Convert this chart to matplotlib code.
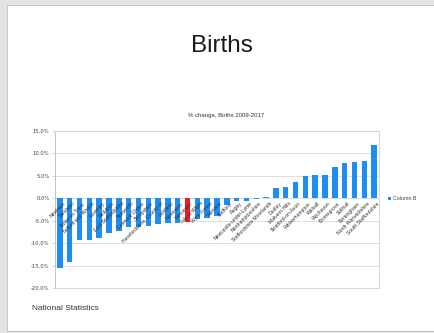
import matplotlib
matplotlib.use("Agg")
import matplotlib.pyplot as plt
from matplotlib.patches import Rectangle
from matplotlib.ticker import FuncFormatter, MultipleLocator

# Areas and their % change in births, 2009-2017
areas = [
    "Newham", "Sandwell", "Stoke-on-Trent", "Telford and Wrekin", "Coventry",
    "Redditch", "East Staffordshire", "Tamworth", "Cannock Chase", "Shropshire",
    "Herefordshire, County of", "Lichfield", "Nuneaton", "Worcester",
    "Isle of Wight", "Wyre Forest", "Warwick", "Stafford", "Rugby",
    "Newcastle-under-Lyme", "Northamptonshire", "Staffordshire Moorlands",
    "Dudley", "Malvern Hills", "Stratford-on-Avon", "Wolverhampton",
    "Walsall", "Wychavon", "Bromsgrove", "Solihull", "Birmingham",
    "North Warwickshire", "South Staffordshire",
]
pct_change = [
    -15.6, -14.3, -9.4, -9.2, -8.9, -7.8, -7.4, -6.5, -6.3, -6.1,
    -5.8, -5.6, -5.5, -5.2, -4.6, -4.3, -4.0, -1.5, -0.6, -0.5,
    -0.1, 0.3, 2.2, 2.6, 3.6, 4.9, 5.2, 5.3, 7.0, 7.8,
    8.2, 8.3, 11.8,
]
highlight = "Worcester"

blue = "#1f8ef1"
red = "#f01d1d"
colors = [red if a == highlight else blue for a in areas]

fig = plt.figure(figsize=(4.35, 3.33), dpi=100)
fig.patch.set_facecolor("#e4e4e4")

# white slide panel behind everything
slide = Rectangle((7 / 435, 2 / 333), 1.2, 326 / 333, transform=fig.transFigure,
                  facecolor="white", edgecolor="#c8c8c8", linewidth=0.8, zorder=-10)
fig.patches.append(slide)

fig.text(222 / 435, 1 - 46 / 333, "Births", ha="center", va="center",
         fontsize=17.5, family="Liberation Sans", color="#1a1a1a")
fig.text(226 / 435, 1 - 115 / 333, "% change, Births 2009-2017", ha="center",
         va="center", fontsize=4.3, family="Liberation Sans", color="#333333")
fig.text(32 / 435, 1 - 309 / 333, "National Statistics", ha="left", va="center",
         fontsize=6, family="Liberation Sans", color="#333333")

ax = fig.add_axes([55 / 435, 1 - 288 / 333, (379 - 55) / 435, (288 - 131) / 333])
ax.set_facecolor("white")
x = list(range(len(areas)))
ax.bar(x, pct_change, width=0.55, color=colors, zorder=3)
ax.set_xlim(-0.5, len(areas) - 0.5)
ax.set_ylim(-20, 15)
ax.yaxis.set_major_locator(MultipleLocator(5))
ax.yaxis.set_major_formatter(FuncFormatter(lambda v, p: f"{v:.1f}%"))
ax.grid(axis="y", color="#d9d9d9", linewidth=0.6, zorder=0)
ax.set_axisbelow(True)
for s in ax.spines.values():
    s.set_color("#d0d0d0")
    s.set_linewidth(0.6)
ax.spines["left"].set_color("#b8b8b8")
ax.tick_params(axis="y", length=2, width=0.5, color="#c8c8c8", labelsize=3.8,
               labelcolor="#444444", pad=2)
ax.tick_params(axis="x", length=0, pad=0)
ax.set_xticks(x)
ax.set_xticklabels([])
for xi, name in zip(x, areas):
    ax.annotate(name, xy=(xi + 0.3, 0), xycoords="data", xytext=(0, -2),
                textcoords="offset points", rotation=45, ha="right", va="top",
                rotation_mode="anchor", fontsize=3.6, color="#333333",
                family="Liberation Sans", zorder=4)

# legend marker and label
fig.patches.append(Rectangle((388 / 435, 1 - 200 / 333), 3 / 435, 3 / 333,
                             transform=fig.transFigure, facecolor=blue,
                             edgecolor="none"))
fig.text(393 / 435, 1 - 198.5 / 333, "Column B", ha="left", va="center",
         fontsize=3.8, color="#444444", family="Liberation Sans")

fig.savefig("out.png", dpi=100, facecolor=fig.get_facecolor())
